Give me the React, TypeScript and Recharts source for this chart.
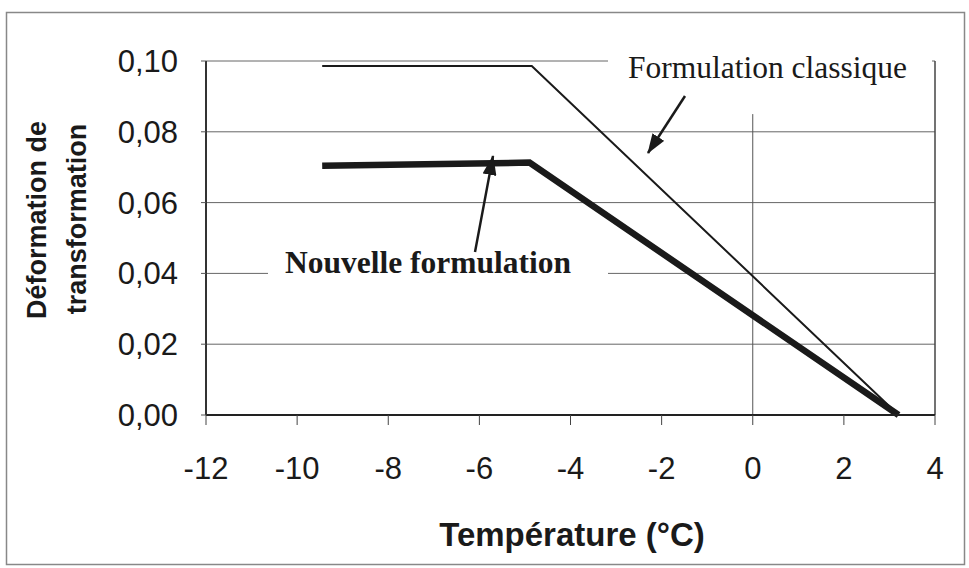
import React from "react";
import {
  CartesianGrid,
  Line,
  LineChart,
  ReferenceLine,
  XAxis,
  YAxis,
} from "recharts";

// Temperature (°C) vs transformation strain.
const classicTemp = [-9.45, -4.85, 3.2];
const classicStrain = [0.0986, 0.0986, 0];
const nouvelleTemp = [-9.45, -4.9, 3.2];
const nouvelleStrain = [0.0704, 0.0713, 0];

const xTicks = [-12, -10, -8, -6, -4, -2, 0, 2, 4];
const yTicks = [0, 0.02, 0.04, 0.06, 0.08, 0.1];

const classic = classicTemp.map((x, i) => ({ x, y: classicStrain[i] }));
const nouvelle = nouvelleTemp.map((x, i) => ({ x, y: nouvelleStrain[i] }));

const SANS = "'Liberation Sans', Arial, sans-serif";
const SERIF = "'Liberation Serif', 'Times New Roman', serif";
const INK = "#1a1a1a";

const comma = (v: number) => v.toFixed(2).replace(".", ",");

export default function App() {
  return (
    <div style={{ position: "absolute", left: 0, top: 0, width: 969, height: 568, background: "#fff" }}>
      <LineChart
        width={969}
        height={568}
        margin={{ top: 61, right: 34, bottom: 93, left: 0 }}
      >
        <CartesianGrid vertical={false} stroke="#666" strokeWidth={1} />
        <XAxis
          type="number"
          dataKey="x"
          domain={[-12, 4]}
          ticks={xTicks}
          allowDataOverflow
          height={60}
          tickSize={10}
          tickMargin={32}
          tick={{ fontFamily: SANS, fontSize: 31, fill: INK }}
          tickLine={{ stroke: "#444" }}
          axisLine={{ stroke: "#222", strokeWidth: 2 }}
        />
        <YAxis
          type="number"
          dataKey="y"
          domain={[0, 0.1]}
          ticks={yTicks}
          width={206}
          tickSize={5}
          tickMargin={23}
          tickFormatter={comma}
          tick={{ fontFamily: SANS, fontSize: 31, fill: INK }}
          tickLine={{ stroke: "#555" }}
          axisLine={{ stroke: "#333", strokeWidth: 2 }}
        />
        <ReferenceLine x={4} stroke="#444" strokeWidth={1.5} />
        <ReferenceLine
          segment={[
            { x: 0, y: 0 },
            { x: 0, y: 0.085 },
          ]}
          stroke="#555"
          strokeWidth={1}
        />
        <Line
          data={classic}
          dataKey="y"
          type="linear"
          stroke={INK}
          strokeWidth={2}
          dot={false}
          isAnimationActive={false}
        />
        <Line
          data={nouvelle}
          dataKey="y"
          type="linear"
          stroke={INK}
          strokeWidth={6.5}
          dot={false}
          isAnimationActive={false}
        />
      </LineChart>

      <svg
        width={969}
        height={568}
        style={{ position: "absolute", left: 0, top: 0, pointerEvents: "none" }}
      >
        <defs>
          <marker
            id="head"
            viewBox="0 0 20 14"
            refX="19"
            refY="7"
            markerWidth="20"
            markerHeight="14"
            markerUnits="userSpaceOnUse"
            orient="auto"
          >
            <path d="M0,0 L20,7 L0,14 z" fill={INK} />
          </marker>
        </defs>
        <rect x={6.5} y={12.5} width={958} height={552} fill="none" stroke="#888" strokeWidth={1.5} />

        {/* annotations */}
        <rect x={608} y={48} width={324} height={42} fill="#fff" />
        <text x={628} y={78} fontFamily={SERIF} fontSize={31.5} fill={INK}>
          Formulation classique
        </text>
        <line x1={685} y1={96} x2={648} y2={153} stroke={INK} strokeWidth={2.5} markerEnd="url(#head)" />

        <rect x={268} y={247} width={340} height={32} fill="#fff" />
        <text x={285} y={273} fontFamily={SERIF} fontSize={31.5} fontWeight="bold" fill={INK}>
          Nouvelle formulation
        </text>
        <line x1={475} y1={252} x2={493} y2={156} stroke={INK} strokeWidth={2.5} markerEnd="url(#head)" />

        {/* axis titles */}
        <text
          x={46}
          y={220}
          transform="rotate(-90 46 220)"
          textAnchor="middle"
          fontFamily={SANS}
          fontSize={27}
          fontWeight="bold"
          fill={INK}
        >
          Déformation de
        </text>
        <text
          x={86}
          y={219}
          transform="rotate(-90 86 219)"
          textAnchor="middle"
          fontFamily={SANS}
          fontSize={27}
          fontWeight="bold"
          fill={INK}
        >
          transformation
        </text>
        <text x={572} y={546} textAnchor="middle" fontFamily={SANS} fontSize={33} fontWeight="bold" fill={INK}>
          Température (°C)
        </text>
      </svg>
    </div>
  );
}
